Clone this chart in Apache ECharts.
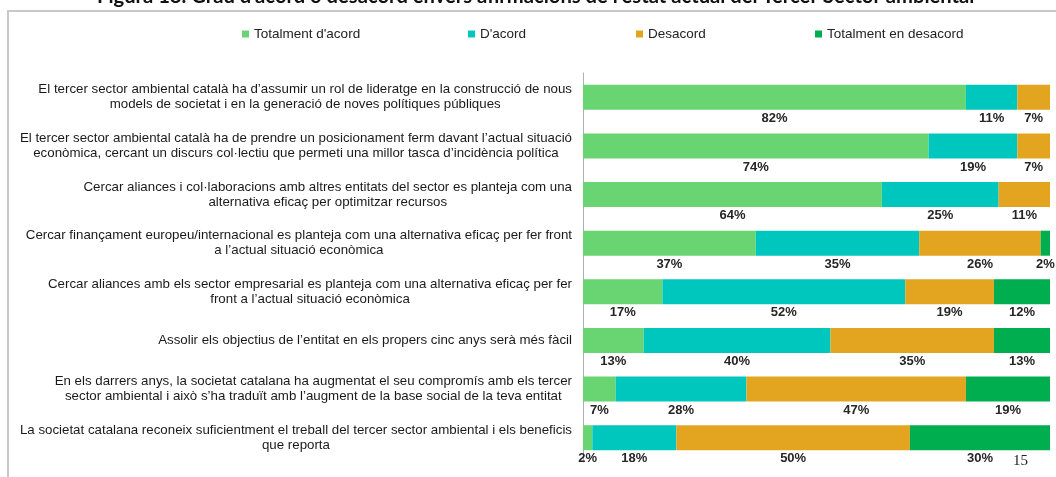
<!DOCTYPE html>
<html>
<head>
<meta charset="utf-8">
<title>Figura 18</title>
<script src="https://cdn.jsdelivr.net/npm/echarts@6/dist/echarts.min.js"></script>
<style>
  html, body { margin: 0; padding: 0; background: #fff; }
  #chart { width: 1056px; height: 477px; }
</style>
</head>
<body>
<div id="chart"></div>
<script>
// afirmacions (de dalt a baix)
const categories = [
  "El tercer sector ambiental català ha d’assumir un rol de lideratge en la construcció de nous\nmodels de societat i en la generació de noves polítiques públiques",
  "El tercer sector ambiental català ha de prendre un posicionament ferm davant l’actual situació\neconòmica, cercant un discurs col·lectiu que permeti una millor tasca d’incidència política",
  "Cercar aliances i col·laboracions amb altres entitats del sector es planteja com una\nalternativa eficaç per optimitzar recursos",
  "Cercar finançament europeu/internacional es planteja com una alternativa eficaç per fer front\na l’actual situació econòmica",
  "Cercar aliances amb els sector empresarial es planteja com una alternativa eficaç per fer\nfront a l’actual situació econòmica",
  "Assolir els objectius de l’entitat en els propers cinc anys serà més fàcil",
  "En els darrers anys, la societat catalana ha augmentat el seu compromís amb els tercer\nsector ambiental i això s’ha traduït amb l’augment de la base social de la teva entitat",
  "La societat catalana reconeix suficientment el treball del tercer sector ambiental i els beneficis\nque reporta"
]

const seriesNames = ["Totalment d'acord", "D'acord", 'Desacord', 'Totalment en desacord']

// percentatges
const totalmentAcord = [82, 74, 64, 37, 17, 13, 7, 2]
const acord = [11, 19, 25, 35, 52, 40, 28, 18]
const desacord = [7, 7, 11, 26, 19, 35, 47, 50]
const totalmentDesacord = [0, 0, 0, 2, 12, 13, 19, 30]

const colorList = ['#69d572', '#00c7bd', '#e3a520', '#00ad4f']

const myChart = echarts.init(document.getElementById('chart'))

const values = [totalmentAcord, acord, desacord, totalmentDesacord]
const legendLeft = [242, 468, 636, 815]

myChart.setOption({
  color: colorList,
  animation: false,
  title: {
    text: "Figura 18. Grau d’acord o desacord envers afirmacions de l’estat actual del Tercer Sector ambiental",
    left: 97,
    top: -14,
    padding: 0,
    textStyle: {
      fontFamily: 'Lato',
      fontWeight: 'bold',
      fontSize: 20.2,
      color: '#111',
    },
  },
  // una llegenda per element, per col·locar-les com a l'original
  legend: seriesNames.map(function(name, i) {
    return {
      data: [name],
      left: legendLeft[i],
      top: 27,
      padding: 0,
      itemWidth: 7,
      itemHeight: 7,
      icon: 'rect',
      selectedMode: false,
      textStyle: {
        fontFamily: 'Liberation Sans',
        fontSize: 13.5,
        color: '#222',
      },
    }
  }),
  grid: {
    left: 583,
    right: 6,
    top: 73,
    bottom: 15,
    containLabel: false,
  },
  xAxis: {
    type: 'value',
    min: 0,
    max: 100,
    show: false,
  },
  yAxis: {
    type: 'category',
    inverse: true,
    data: categories,
    axisLine: {
      show: true,
      lineStyle: { color: '#b0b0b0', width: 1 },
    },
    axisTick: { show: false },
    splitLine: { show: false },
    axisLabel: {
      margin: 11,
      formatter: function(value) {
        return value.split('\n').map(function(line) {
          return '{c|' + line + '}'
        }).join('\n')
      },
      rich: {
        c: {
          align: 'center',
          fontFamily: 'Liberation Sans',
          fontSize: 13.3,
          lineHeight: 15,
          color: '#1a1a1a',
        },
      },
    },
  },
  series: seriesNames.map(function(name, i) {
    return {
      name: name,
      type: 'bar',
      stack: 'total',
      barWidth: 25,
      data: values[i],
      label: {
        show: true,
        position: 'bottom',
        distance: 2,
        fontFamily: 'Liberation Sans',
        fontWeight: 'bold',
        fontSize: 13,
        color: '#262626',
        formatter: function(p) {
          return p.value ? p.value + '%' : ''
        },
      },
    }
  }),
  graphic: [
    {
      // marc de la figura
      type: 'rect',
      silent: true,
      z: -1,
      shape: { x: 8, y: 11, width: 1200, height: 600 },
      style: { fill: 'none', stroke: '#c8c8c8', lineWidth: 2 },
    },
    {
      type: 'text',
      left: 1013,
      top: 454,
      style: {
        text: '15',
        font: '15px "Liberation Serif"',
        fill: '#222',
      },
    },
  ],
})

window.addEventListener('resize', () => {
  myChart.resize()
})
</script>
</body>
</html>
